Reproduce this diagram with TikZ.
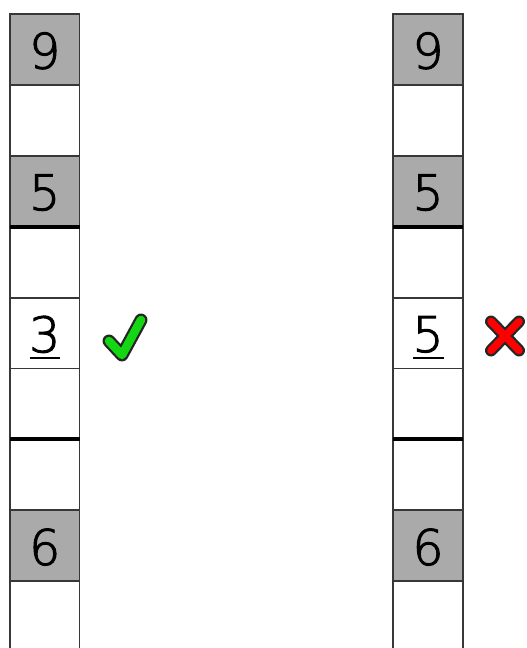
\documentclass[tikz,border=0pt]{standalone}
\usepackage{fontspec}
\setmainfont{DejaVu Sans}
\newfontfamily\digitfont{DejaVuSans-ExtraLight.ttf}[FakeBold=2]
\definecolor{cellgray}{RGB}{170,170,170}
\definecolor{edgegray}{RGB}{55,55,55}
\definecolor{okgreen}{RGB}{20,215,20}
\begin{document}
\begin{tikzpicture}[x=1pt,y=-1pt,
  cell/.style={draw=edgegray,line width=1.8pt,rectangle,inner sep=0pt,outer sep=0pt,
    minimum width=69.5pt,minimum height=70.9pt,text depth=0pt,
    font=\digitfont\fontsize{49}{49}\selectfont},
  shaded/.style={cell,fill=cellgray},
  sep/.style={line width=4pt,black},
  uline/.style={line width=1.6pt,black},
  markout/.style={line cap=round,line join=round,black!85},
]
\useasboundingbox (0,0) rectangle (527,648);
% left column
\foreach \i/\t/\s in {0/9/shaded,1//cell,2/5/shaded,3//cell,4/3/cell,5//cell,6//cell,7/6/shaded,8//cell}{
  \node[\s] (L\i) at (44.75,{14+70.9*(\i+0.5)}) {\raisebox{-2pt}{\t}};
}
% right column
\foreach \i/\t/\s in {0/9/shaded,1//cell,2/5/shaded,3//cell,4/5/cell,5//cell,6//cell,7/6/shaded,8//cell}{
  \node[\s] (R\i) at (428,{14+70.9*(\i+0.5)}) {\raisebox{-2pt}{\t}};
}
% thick separators
\draw[sep] (L2.south west) -- (L2.south east);
\draw[sep] (L5.south west) -- (L5.south east);
\draw[sep] (R2.south west) -- (R2.south east);
\draw[sep] (R5.south west) -- (R5.south east);
% underlines
\draw[uline] ([xshift=-15pt,yshift=-25pt]L4.center) -- ([xshift=15pt,yshift=-25pt]L4.center);
\draw[uline] ([xshift=-15pt,yshift=-25pt]R4.center) -- ([xshift=16pt,yshift=-25pt]R4.center);
% check mark
\coordinate (ck1) at (109,341);
\coordinate (ck2) at (122,355);
\coordinate (ck3) at (141,320);
\draw[markout,line width=13pt] (ck1) -- (ck2) -- (ck3);
\draw[line width=8.5pt,line cap=round,line join=round,okgreen] (ck1) -- (ck2) -- (ck3);
% cross
\coordinate (xa) at (491,321.5);
\coordinate (xb) at (519,350.5);
\coordinate (xc) at (519,321.5);
\coordinate (xd) at (491,350.5);
\draw[markout,line width=12pt] (xa) -- (xb) (xc) -- (xd);
\draw[line width=7.5pt,line cap=round,red] (xa) -- (xb) (xc) -- (xd);
\end{tikzpicture}
\end{document}
